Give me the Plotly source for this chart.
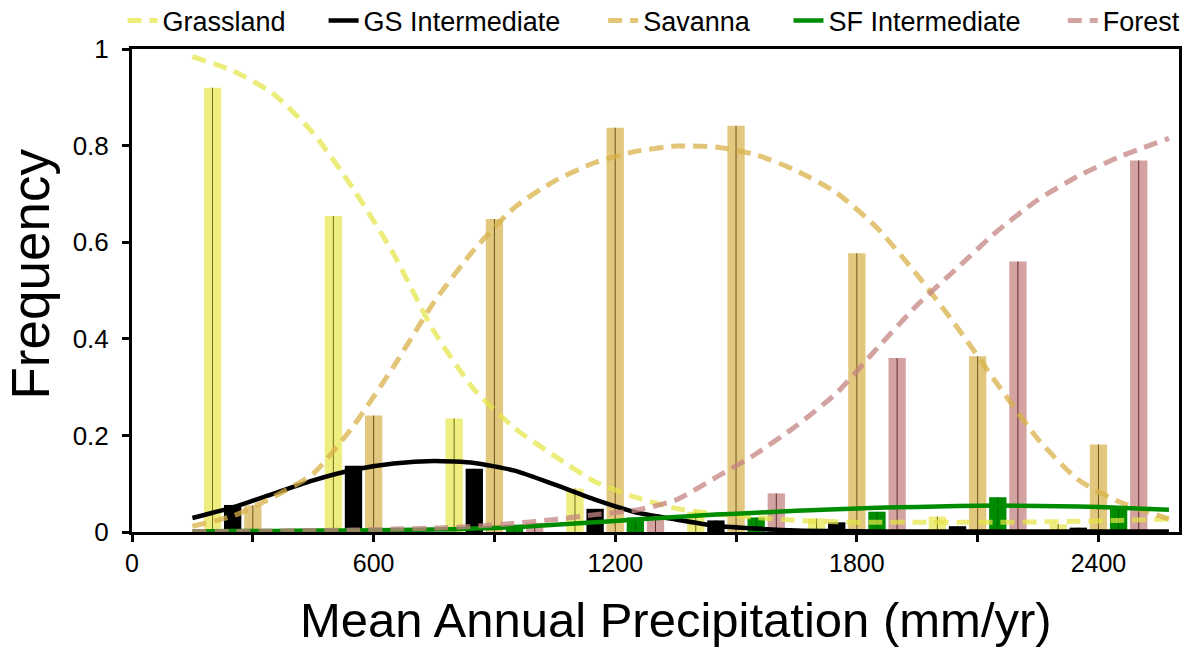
import plotly.graph_objects as go

# Precipitation bins (bar group centres, mm/yr)
bins = [300, 600, 900, 1200, 1500, 1800, 2100, 2400]

# Observed frequency of each vegetation class per bin
grassland_freq = [0.920, 0.654, 0.235, 0.090, 0.042, 0.028, 0.032, 0.016]
gs_freq = [0.056, 0.137, 0.131, 0.048, 0.024, 0.020, 0.012, 0.009]
savanna_freq = [0.055, 0.241, 0.648, 0.837, 0.841, 0.577, 0.364, 0.181]
sf_freq = [0.002, 0.003, 0.015, 0.030, 0.030, 0.042, 0.072, 0.049]
forest_freq = [0.001, 0.001, 0.019, 0.034, 0.080, 0.360, 0.560, 0.769]

# Fitted probability curves
map_grid = [150, 250, 350, 450, 550, 650, 750, 850, 950, 1050, 1150, 1250, 1350,
            1450, 1550, 1650, 1750, 1850, 1950, 2050, 2150, 2250, 2350, 2450, 2575]
grassland_fit = [0.984, 0.955, 0.908, 0.826, 0.710, 0.575, 0.415, 0.295, 0.215, 0.157,
                 0.104, 0.072, 0.049, 0.037, 0.030, 0.024, 0.021, 0.020, 0.020, 0.020,
                 0.020, 0.021, 0.022, 0.024, 0.027]
gs_fit = [0.029, 0.051, 0.079, 0.107, 0.129, 0.142, 0.147, 0.143, 0.127, 0.098,
          0.067, 0.041, 0.026, 0.013, 0.007, 0.003, 0.002, 0.001, 0.001, 0.001,
          0.001, 0.001, 0.001, 0.001, 0.001]
savanna_fit = [0.012, 0.033, 0.072, 0.121, 0.220, 0.343, 0.476, 0.585, 0.672, 0.727,
               0.765, 0.788, 0.799, 0.797, 0.781, 0.748, 0.702, 0.630, 0.532, 0.423,
               0.305, 0.192, 0.108, 0.063, 0.027]
sf_fit = [0.001, 0.002, 0.002, 0.003, 0.003, 0.004, 0.005, 0.007, 0.010, 0.015,
          0.020, 0.026, 0.031, 0.036, 0.040, 0.044, 0.047, 0.050, 0.052, 0.054,
          0.055, 0.054, 0.053, 0.050, 0.046]
forest_fit = [0.001, 0.001, 0.002, 0.003, 0.004, 0.006, 0.008, 0.012, 0.018, 0.026,
              0.036, 0.045, 0.066, 0.113, 0.162, 0.220, 0.288, 0.380, 0.470, 0.547,
              0.624, 0.688, 0.737, 0.776, 0.815]

series = [
    # name, bar values, curve values, bar colour, centre-line colour, curve colour, dash, legend id, legend x
    ("Grassland", grassland_freq, grassland_fit, "rgb(237,237,128)", "rgb(110,110,20)",
     "rgba(228,228,70,0.72)", "14px,8px", "legend", -0.009),
    ("GS Intermediate", gs_freq, gs_fit, "rgb(0,0,0)", "rgb(0,0,0)",
     "rgb(0,0,0)", "solid", "legend2", 0.183),
    ("Savanna", savanna_freq, savanna_fit, "rgb(226,200,126)", "rgb(110,85,30)",
     "rgba(216,178,72,0.75)", "14px,8px", "legend3", 0.450),
    ("SF Intermediate", sf_freq, sf_fit, "rgb(0,140,0)", "rgb(0,100,0)",
     "rgb(0,140,0)", "solid", "legend4", 0.627),
    ("Forest", forest_freq, forest_fit, "rgb(211,163,161)", "rgb(100,45,45)",
     "rgba(196,132,130,0.75)", "14px,8px", "legend5", 0.889),
]

font_family = "Liberation Sans, Arial, Helvetica, sans-serif"

fig = go.Figure()

for name, vals, fit, bar_col, mid_col, line_col, dash, leg, leg_x in series:
    fig.add_trace(go.Bar(
        x=bins, y=vals, name=name, showlegend=False,
        marker=dict(color=bar_col, line=dict(width=0)),
        error_y=dict(type="data", symmetric=False, array=[0] * len(vals),
                     arrayminus=vals, width=0, thickness=1, color=mid_col),
        hoverinfo="skip",
    ))

legend_layout = {}
for name, vals, fit, bar_col, mid_col, line_col, dash, leg, leg_x in series:
    fig.add_trace(go.Scatter(
        x=map_grid, y=fit, name=name, mode="lines",
        line=dict(color=line_col, width=5 if dash != "solid" else 4.5,
                  dash=dash, shape="spline", smoothing=0.6),
        legend=leg,
    ))
    legend_layout[leg] = dict(
        orientation="h", x=leg_x, xanchor="left", y=1.058, yanchor="middle",
        font=dict(size=27, family=font_family), bgcolor="rgba(0,0,0,0)",
        itemwidth=30,
    )

fig.update_layout(
    width=1195, height=647,
    margin=dict(l=132, r=16, t=49, b=115, autoexpand=False),
    paper_bgcolor="white", plot_bgcolor="white",
    barmode="group", bargap=1 / 6, bargroupgap=0.14,
    font=dict(family=font_family, color="black"),
    xaxis=dict(
        range=[0, 2600],
        tickvals=[0, 300, 600, 900, 1200, 1500, 1800, 2100, 2400],
        ticktext=["0", "", "600", "", "1200", "", "1800", "", "2400"],
        ticks="outside", ticklen=7, tickwidth=3, tickcolor="black",
        tickfont=dict(size=25),
        showline=True, linewidth=3, linecolor="black", mirror=True,
        showgrid=False, zeroline=False,
    ),
    yaxis=dict(
        range=[0, 1], dtick=0.2, tick0=0,
        ticks="outside", ticklen=7, tickwidth=3, tickcolor="black",
        tickfont=dict(size=26), ticklabelstandoff=8,
        showline=True, linewidth=3, linecolor="black", mirror=True,
        showgrid=False, zeroline=False,
    ),
    annotations=[
        dict(text="Mean Annual Precipitation (mm/yr)", xref="paper", yref="paper",
             x=0.5196, y=-0.183, xanchor="center", yanchor="middle",
             showarrow=False, font=dict(size=49)),
        dict(text="Frequency", xref="paper", yref="paper", textangle=-90,
             x=-0.097, y=0.534, xanchor="center", yanchor="middle",
             showarrow=False, font=dict(size=53)),
    ],
    **legend_layout,
)

fig.write_html("out.html")
